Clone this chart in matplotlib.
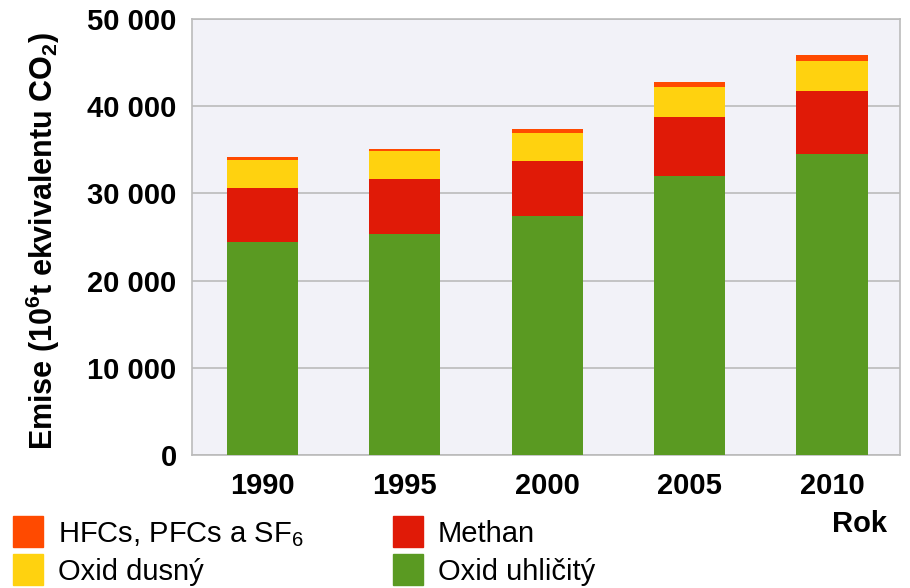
import matplotlib
matplotlib.use('Agg')
import matplotlib.pyplot as plt
from matplotlib.patches import Rectangle
from matplotlib.ticker import FuncFormatter

# emise skleníkových plynů (10^6 t ekvivalentu CO2)
roky = ['1990', '1995', '2000', '2005', '2010']
oxid_uhlicity = [24400, 25400, 27400, 32000, 34500]
methan = [6200, 6200, 6300, 6800, 7200]
oxid_dusny = [3200, 3250, 3200, 3400, 3450]
hfc_pfc_sf6 = [400, 250, 450, 600, 750]

nazvy = ['Oxid uhličitý', 'Methan', 'Oxid dusný', 'HFCs, PFCs a SF$_6$']
barvy = ['#5A9A22', '#E01A07', '#FFD20F', '#FF4A00']

plt.rcParams['font.family'] = ['Liberation Sans', 'DejaVu Sans']
plt.rcParams['mathtext.default'] = 'regular'

W, H = 910, 588
fig = plt.figure(figsize=(W / 100, H / 100), dpi=100)
ax = fig.add_axes([192 / W, 1 - 455 / H, 708 / W, 436 / H])
ax.set_facecolor('#F2F2F8')

x = list(range(len(roky)))
w = 0.5
bottom = [0] * len(roky)
for serie, barva in zip([oxid_uhlicity, methan, oxid_dusny, hfc_pfc_sf6], barvy):
    ax.bar(x, serie, w, bottom=bottom, color=barva, zorder=3)
    bottom = [a + b for a, b in zip(bottom, serie)]

ax.set_ylim(0, 50000)
ax.set_xlim(-0.495, 4.478)
ax.set_yticks(range(0, 50001, 10000))
ax.yaxis.set_major_formatter(FuncFormatter(lambda v, p: f'{int(v):,}'.replace(',', ' ')))
ax.set_xticks(x)
ax.set_xticklabels(roky)
ax.tick_params(length=0, labelsize=21)
ax.tick_params(axis='y', pad=11)
ax.tick_params(axis='x', pad=12)
for lab in ax.get_xticklabels() + ax.get_yticklabels():
    lab.set_fontweight('bold')
ax.yaxis.grid(True, color='#BBBBBB', linewidth=1.2, zorder=0)
for s in ax.spines.values():
    s.set_color('#BBBBBB')
    s.set_linewidth(1.2)

ax.set_ylabel('Emise (10$^6$t ekvivalentu CO$_2$)', fontsize=22, fontweight='bold')
ax.yaxis.set_label_coords(-0.183, 0.49)

fig.text(860 / W, 1 - 524 / H, 'Rok', fontsize=21, fontweight='bold', ha='center', va='center')

# legenda: dva sloupce, ručně umístěná
poradi = [3, 2, 1, 0]
pozice = [(13, 516), (13, 554), (393, 516), (393, 554)]
for i, (px, py) in zip(poradi, pozice):
    fig.patches.append(Rectangle((px / W, 1 - (py + 31) / H), 30 / W, 31 / H,
                                 transform=fig.transFigure, color=barvy[i]))
    fig.text((px + 45) / W, 1 - (py + 15.5) / H, nazvy[i], fontsize=21,
             ha='left', va='center_baseline')

fig.savefig('out.png', dpi=100)
